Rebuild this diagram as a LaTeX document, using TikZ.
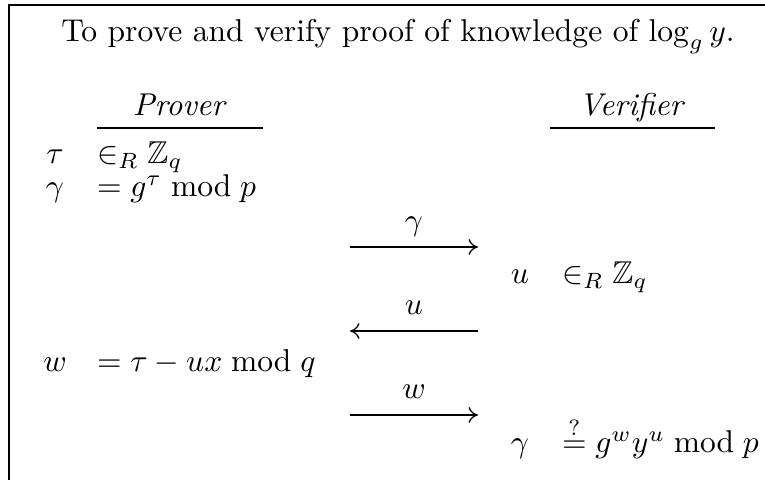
\documentclass[tikz,border=0pt]{standalone}
\usepackage{amssymb}
\usetikzlibrary{arrows.meta}
\begin{document}
\begin{tikzpicture}[x=0.317pt,y=-0.317pt,
  every node/.style={inner sep=0pt,outer sep=0pt},
  sym/.style={anchor=base},
  rel/.style={anchor=base west},
  frameline/.style={line width=0.7pt},
  rulel/.style={line width=0.6pt},
  msg/.style={line width=0.4pt,-{To[length=3pt,width=5pt]}},
  lab/.style={anchor=base},
  msglab/.style={anchor=base,yshift=5.3pt}]
\useasboundingbox (0,0) rectangle (765,480);
% frame
\coordinate (ftl) at (9,5);
\coordinate (ftr) at (765,5);
\coordinate (fbl) at (9,480);
\draw[frameline] (ftr) -- (ftl) -- (fbl);
% title
\node[lab] (title) at (398,42) {To prove and verify proof of knowledge of $\log_g y$.};
% headers
\node[lab] (prover) at (180,116) {\textit{Prover}};
\node[lab] (verifier) at (632,116) {\textit{Verifier}};
\coordinate (pl) at (97,128); \coordinate (pr) at (263,128);
\coordinate (vl) at (550,128); \coordinate (vr) at (715,128);
\draw[rulel] (pl) -- (pr);
\draw[rulel] (vl) -- (vr);
% prover rows
\node[sym] (tau) at (55,164) {$\tau$};
\node[rel] (taur) at (97,164) {$\in_R \mathbb{Z}_q$};
\node[sym] (gam) at (55,197) {$\gamma$};
\node[rel] (gamr) at (97,197) {$= g^\tau \bmod p$};
\node[sym] (w) at (55,372) {$w$};
\node[rel] (wr) at (97,372) {$= \tau - ux \bmod q$};
% verifier rows
\node[sym] (u) at (520,284) {$u$};
\node[rel] (ur) at (562,284) {$\in_R \mathbb{Z}_q$};
\node[sym] (gamv) at (520,453) {$\gamma$};
\node[rel] (gamvr) at (562,453) {$\stackrel{?}{=} g^w y^u \bmod p$};
% messages
\coordinate (a1l) at (350,247); \coordinate (a1r) at (478,247);
\coordinate (a2l) at (350,331); \coordinate (a2r) at (478,331);
\coordinate (a3l) at (350,415); \coordinate (a3r) at (478,415);
\draw[msg] (a1l) -- node[msglab] (m1) {$\gamma$} (a1r);
\draw[msg] (a2r) -- node[msglab] (m2) {$u$} (a2l);
\draw[msg] (a3l) -- node[msglab] (m3) {$w$} (a3r);
\end{tikzpicture}
\end{document}
